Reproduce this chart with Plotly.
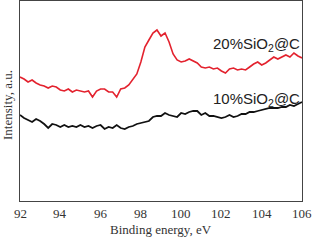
import plotly.graph_objects as go

energy = [92.0 + 0.2 * k for k in range(71)]

red_20 = [124,122,119,121,118,116,115,113,115,114,
          111,110,112,109,111,110,109,110,104,110,
          112,112,109,109,104,112,113,116,121,127,
          139,154,161,168,171,165,168,159,147,141,
          139,140,142,140,138,134,133,134,132,133,
          130,128,132,133,131,132,131,134,137,139,
          136,138,141,144,142,144,146,144,148,145,
          143]

black_10 = [86,83,81,79,82,80,77,73,77,76,
            74,76,74,75,74,76,74,75,73,75,
            76,72,74,73,76,73,72,74,75,77,
            78,79,80,84,85,85,88,86,85,84,
            88,87,89,90,90,86,88,85,85,84,
            83,84,86,84,85,87,87,89,89,90,
            91,92,93,93,93,94,94,96,95,97,
            99]

x_ticks = [92, 94, 96, 98, 100, 102, 104, 106]

serif = dict(family="Liberation Serif", size=13, color="#333")

fig = go.Figure()
fig.add_trace(go.Scatter(x=energy, y=red_20, mode="lines",
                         line=dict(color="#e3222e", width=1.6), showlegend=False))
fig.add_trace(go.Scatter(x=energy, y=black_10, mode="lines",
                         line=dict(color="#111111", width=1.8), showlegend=False))

fig.add_annotation(x=106, y=157, xref="x", yref="y", text="20%SiO<sub>2</sub>@C",
                   showarrow=False, xanchor="right", xshift=0,
                   font=dict(family="Liberation Sans", size=15, color="#222"))
fig.add_annotation(x=106, y=102, xref="x", yref="y", text="10%SiO<sub>2</sub>@C",
                   showarrow=False, xanchor="right", xshift=0,
                   font=dict(family="Liberation Sans", size=15, color="#222"))
fig.add_annotation(x=0, y=0.48, xref="paper", yref="paper", text="Intensity, a.u.",
                   showarrow=False, textangle=-90, xanchor="center", xshift=-13,
                   font=serif)
for t in x_ticks:
    fig.add_annotation(x=t, y=0, xref="x", yref="paper", text=str(t),
                       showarrow=False, yanchor="middle", yshift=-12, font=serif)
fig.add_annotation(x=99, y=0, xref="x", yref="paper", text="Binding energy, eV",
                   showarrow=False, yanchor="middle", yshift=-28, font=serif)

fig.update_xaxes(range=[92, 106], showticklabels=False, ticks="", showgrid=False,
                 zeroline=False, showline=True, mirror=True, linecolor="#444", linewidth=1)
fig.update_yaxes(range=[0, 200], showticklabels=False, ticks="", showgrid=False,
                 zeroline=False, showline=True, mirror=True, linecolor="#444", linewidth=1)

fig.update_layout(width=312, height=240, margin=dict(l=20, r=10, t=1, b=39),
                  plot_bgcolor="white", paper_bgcolor="white")
fig.write_html("out.html")
